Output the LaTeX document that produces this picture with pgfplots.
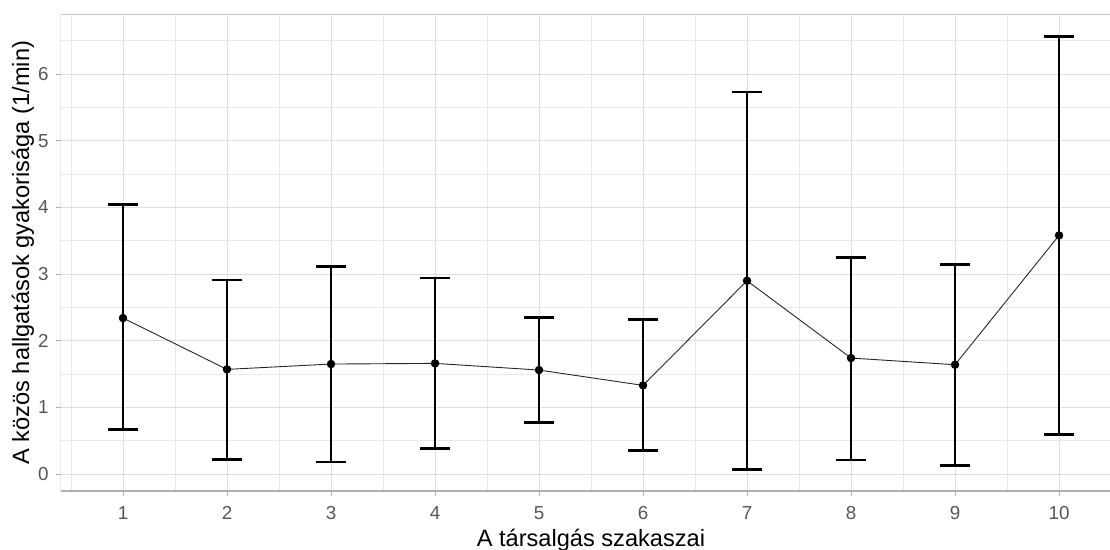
\documentclass[border=0pt]{standalone}
\usepackage{pgfplots}
\usepackage{pgfplotstable}
\pgfplotsset{compat=1.18}
\usepackage{fontspec}
\setmainfont{Liberation Sans}
\definecolor{gridmaj}{HTML}{DEDEDE}
\definecolor{gridmin}{HTML}{E8E8E8}
\definecolor{borderc}{HTML}{C4C4C4}
\definecolor{axisc}{HTML}{ADADAD}
\definecolor{tickc}{HTML}{555555}
\pgfplotstableread{
x y ep em
1 2.34 1.70 1.67
2 1.57 1.34 1.35
3 1.65 1.46 1.47
4 1.66 1.28 1.28
5 1.56 0.79 0.79
6 1.33 0.99 0.98
7 2.90 2.83 2.83
8 1.74 1.51 1.53
9 1.64 1.50 1.51
10 3.58 2.99 2.99
}\data
\begin{document}
\begin{tikzpicture}
\begin{axis}[
  scale only axis,
  width=524.7pt, height=238.25pt,
  xmin=0.4, xmax=10.49, ymin=-0.255, ymax=6.895,
  xtick={1,...,10}, ytick={0,...,6},
  minor xtick={0.5,1.5,...,10.5},
  minor ytick={0.5,1.5,...,6.5},
  grid=both,
  major grid style={color=gridmaj, line width=0.5pt},
  minor grid style={color=gridmin, line width=0.4pt},
  axis line style={draw=none},
  tick align=outside,
  xtick pos=bottom, ytick pos=left,
  major tick length=2.5pt, minor tick length=0pt,
  tick style={color=axisc, line width=0.5pt},
  /pgf/number format/assume math mode=true,
  ticklabel style={font=\fontsize{9.4}{11}\selectfont, text=tickc},
  xticklabel style={yshift=-1.5pt},
  xlabel={A társalgás szakaszai},
  ylabel={A közös hallgatások gyakorisága (1/min)},
  label style={font=\fontsize{11.8}{13}\selectfont, text=black},
  xlabel style={at={(axis description cs:0.5054,0)}, anchor=base, yshift=-27.9pt},
  ylabel style={at={(axis description cs:-0.0299,0.5)}, anchor=base},
]
\addplot[black!85, line width=0.45pt, mark=none] table[x=x, y=y] {\data};
\addplot[black, only marks, mark=*, mark size=1.9pt,
  error bars/.cd, y dir=both, y explicit,
  error bar style={line width=1.35pt, black},
  error mark=|,
  error mark options={mark size=7.67pt, line width=1.35pt, black}]
  table[x=x, y=y, y error plus=ep, y error minus=em] {\data};
\draw[borderc, line width=0.5pt] (rel axis cs:0,0) -- (rel axis cs:0,1) -- (rel axis cs:1,1);
\draw[axisc, line width=0.75pt] (rel axis cs:0,0) -- (rel axis cs:1,0);
\coordinate (ll) at (rel axis cs:0,0);
\coordinate (ur) at (rel axis cs:1,1);
\end{axis}
\pgfresetboundingbox
\path ([shift={(-30.3pt,-29pt)}]ll) rectangle ([shift={(0pt,7.25pt)}]ur);
\end{tikzpicture}
\end{document}
